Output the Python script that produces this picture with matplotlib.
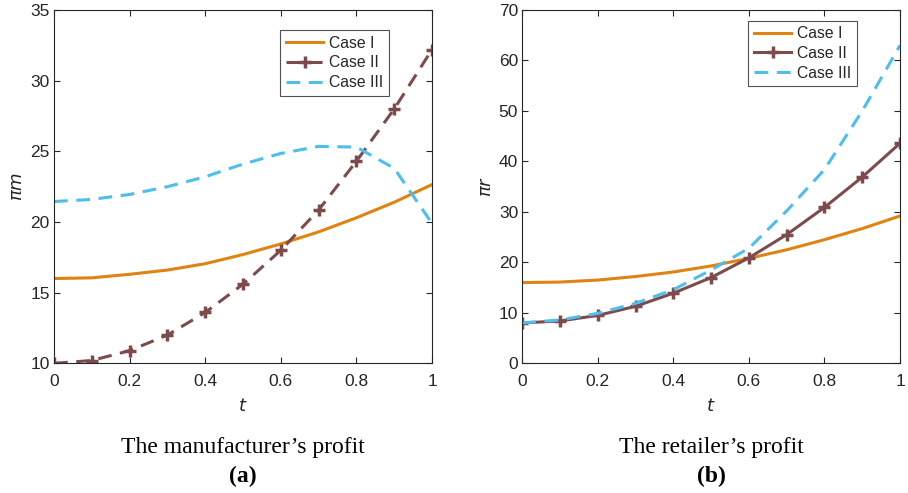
"""Manufacturer and retailer profit versus t for three cases."""

import matplotlib.pyplot as plt

t = [0.0, 0.1, 0.2, 0.3, 0.4, 0.5, 0.6, 0.7, 0.8, 0.9, 1.0]

# (a) manufacturer's profit
pm_case1 = [16.0, 16.05, 16.3, 16.6, 17.05, 17.7, 18.45, 19.3, 20.3, 21.4, 22.65]
pm_case2 = [10.0, 10.2, 10.9, 12.0, 13.6, 15.6, 18.0, 20.85, 24.3, 28.0, 32.2]
pm_case3 = [21.45, 21.6, 21.95, 22.5, 23.2, 24.1, 24.85, 25.35, 25.3, 23.8, 19.9]

# (b) retailer's profit
pr_case1 = [16.0, 16.1, 16.5, 17.2, 18.1, 19.3, 20.8, 22.5, 24.5, 26.7, 29.2]
pr_case2 = [8.0, 8.4, 9.5, 11.3, 13.9, 17.0, 20.9, 25.5, 30.9, 36.9, 43.6]
pr_case3 = [8.0, 8.6, 9.9, 11.9, 14.6, 18.5, 22.8, 30.2, 38.4, 50.0, 63.0]

labels = ["Case I", "Case II", "Case III"]
captions = ["The manufacturer\u2019s profit", "The retailer\u2019s profit"]
panel_tags = ["(a)", "(b)"]

ORANGE = "#e08312"
BROWN = "#7e4b4d"
CYAN = "#4dbeee"
AX_COLOR = "#262626"

plt.rcParams["font.family"] = ["Liberation Sans", "DejaVu Sans"]
plt.rcParams["font.size"] = 12

fig = plt.figure(figsize=(9.08, 4.93), dpi=100)
ax1 = fig.add_axes([0.0595, 0.263, 0.4163, 0.7167])
ax2 = fig.add_axes([0.5752, 0.263, 0.4160, 0.7167])


def style_axes(ax, ylim, yticks, ylabel):
    ax.set_xlim(0, 1)
    ax.set_ylim(*ylim)
    ax.set_xticks([0, 0.2, 0.4, 0.6, 0.8, 1.0])
    ax.set_xticklabels(["0", "0.2", "0.4", "0.6", "0.8", "1"])
    ax.set_yticks(yticks)
    ax.tick_params(direction="in", top=True, right=True, length=4,
                   width=0.8, colors=AX_COLOR, labelsize=12.5, pad=8)
    ax.tick_params(axis="y", pad=3)
    for sp in ax.spines.values():
        sp.set_color(AX_COLOR)
        sp.set_linewidth(0.8)
    ax.set_xlabel("$t$", fontsize=13, color=AX_COLOR, labelpad=6)
    ax.set_ylabel(ylabel, fontsize=13, color=AX_COLOR, labelpad=3)


leg_kw = dict(loc="upper right", fontsize=11.3, frameon=True, fancybox=False,
              handlelength=2.4, borderpad=0.35, labelspacing=0.3,
              handletextpad=0.35, borderaxespad=0)

# panel (a)
ax1.plot(t, pm_case1, color=ORANGE, lw=2.2, label=labels[0])
ax1.plot(t, pm_case2, color=BROWN, lw=2.2, ls=(0, (4.5, 2.8)), marker="+",
         ms=8, mew=2.5, label=labels[1])
ax1.plot(t, pm_case3, color=CYAN, lw=2.2, ls=(0, (4.5, 2.8)), label=labels[2])
style_axes(ax1, (10, 35), range(10, 36, 5), r"$\pi m$")
leg1 = ax1.legend(bbox_to_anchor=(0.885, 0.943), **leg_kw)

# panel (b)
ax2.plot(t, pr_case1, color=ORANGE, lw=2.2, label=labels[0])
ax2.plot(t, pr_case2, color=BROWN, lw=2.2, marker="+", ms=8, mew=2.5,
         label=labels[1])
ax2.plot(t, pr_case3, color=CYAN, lw=2.2, ls=(0, (4.5, 2.8)), label=labels[2])
style_axes(ax2, (0, 70), range(0, 71, 10), r"$\pi r$")
leg2 = ax2.legend(bbox_to_anchor=(0.885, 0.97), **leg_kw)

for leg in (leg1, leg2):
    leg.get_frame().set_edgecolor(AX_COLOR)
    leg.get_frame().set_linewidth(0.8)
    for txt in leg.get_texts():
        txt.set_color(AX_COLOR)

# captions under each panel
for ax, cap, tag in zip((ax1, ax2), captions, panel_tags):
    pos = ax.get_position()
    xc = (pos.x0 + pos.x1) / 2
    fig.text(xc, 1 - 448 / 493, cap, ha="center", va="center",
             family="Liberation Serif", fontsize=17)
    fig.text(xc, 1 - 476 / 493, tag, ha="center", va="center",
             family="Liberation Serif", fontsize=17, fontweight="bold")

fig.savefig("out.png", dpi=100)
